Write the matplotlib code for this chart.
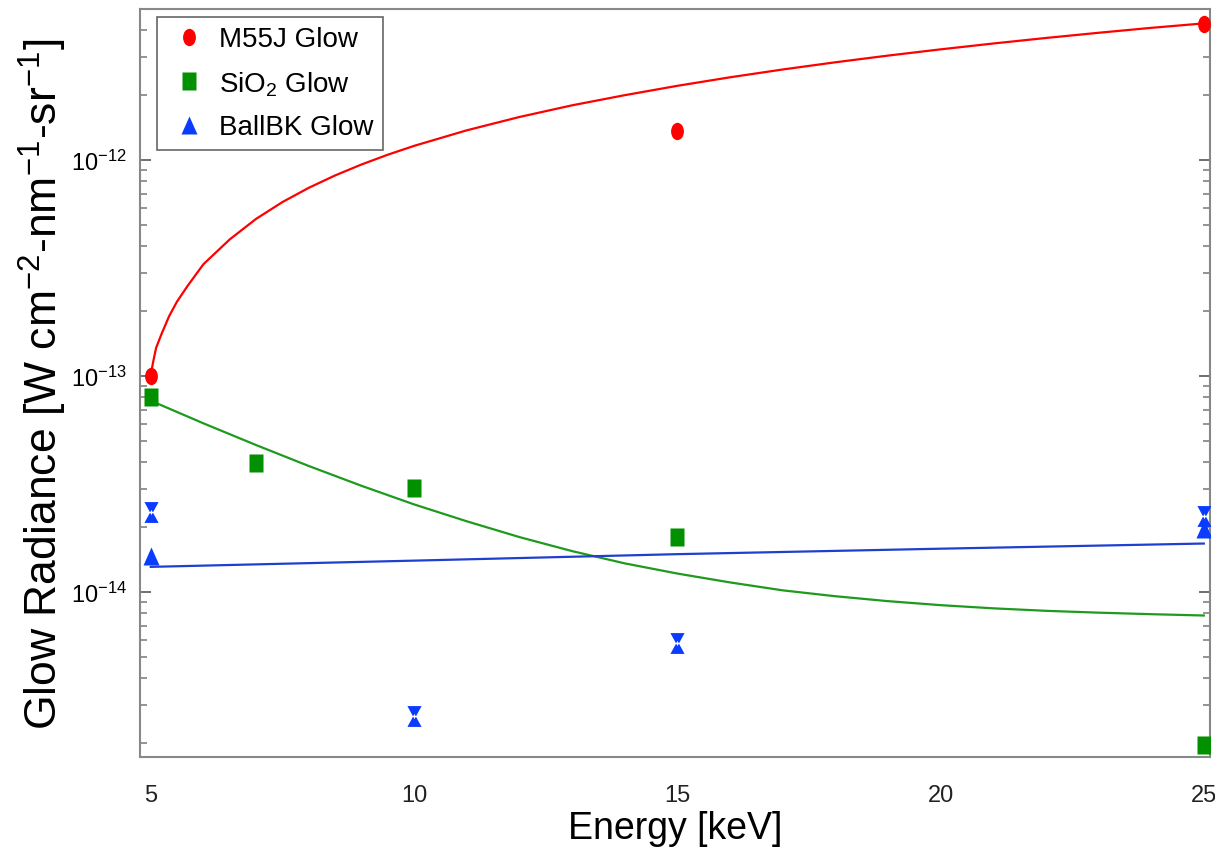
import matplotlib
matplotlib.use("Agg")
import matplotlib.pyplot as plt
from matplotlib.markers import MarkerStyle
from matplotlib.path import Path
from matplotlib.transforms import Affine2D
from matplotlib.ticker import NullFormatter

plt.rcParams['font.family'] = ['Liberation Sans', 'DejaVu Sans']
plt.rcParams['mathtext.fontset'] = 'custom'
plt.rcParams['mathtext.rm'] = 'Liberation Sans'
plt.rcParams['mathtext.it'] = 'Liberation Sans:italic'
plt.rcParams['mathtext.bf'] = 'Liberation Sans:bold'

# measured points
m55j_e = [5, 15, 25]
m55j_glow = [1.0e-13, 1.36e-12, 4.25e-12]

sio2_e = [5, 7, 10, 15, 25]
sio2_glow = [8.0e-14, 3.95e-14, 3.03e-14, 1.80e-14, 1.96e-15]

ballbk_e = [5, 25]
ballbk_glow = [1.47e-14, 1.96e-14]
ballbk_hg_e = [5, 10, 15, 25]
ballbk_hg_glow = [2.34e-14, 2.67e-15, 5.8e-15, 2.25e-14]

# fitted curves
m55j_fit_e = [5.0, 5.05, 5.1, 5.2, 5.35, 5.5, 5.7, 6.0, 6.5, 7.0, 7.5, 8.0, 8.5,
              9.0, 9.5, 10, 11, 12, 13, 14, 15, 16, 17, 18, 19, 20, 21, 22,
              23, 24, 25]
m55j_fit = [1.02e-13, 1.18e-13, 1.35e-13, 1.56e-13, 1.9e-13, 2.22e-13, 2.62e-13,
            3.3e-13, 4.3e-13, 5.35e-13, 6.4e-13, 7.45e-13, 8.5e-13, 9.55e-13,
            1.06e-12, 1.165e-12, 1.375e-12, 1.585e-12, 1.795e-12, 2.0e-12,
            2.21e-12, 2.42e-12, 2.63e-12, 2.84e-12, 3.05e-12, 3.26e-12,
            3.47e-12, 3.68e-12, 3.89e-12, 4.1e-12, 4.3e-12]

sio2_fit_e = [5, 6, 7, 8, 9, 10, 11, 12, 13, 14, 15, 16, 17, 18, 19, 20,
              21, 22, 23, 24, 25]
sio2_fit = [7.7e-14, 6.05e-14, 4.80e-14, 3.84e-14, 3.11e-14, 2.55e-14, 2.13e-14,
            1.80e-14, 1.55e-14, 1.36e-14, 1.22e-14, 1.11e-14, 1.02e-14, 9.58e-15,
            9.09e-15, 8.71e-15, 8.42e-15, 8.20e-15, 8.04e-15, 7.91e-15, 7.8e-15]

ballbk_fit_e = [5, 10, 15, 20, 25]
ballbk_fit = [1.31e-14, 1.40e-14, 1.50e-14, 1.59e-14, 1.68e-14]

y_major = [1e-14, 1e-13, 1e-12]
y_minor = [2e-15, 3e-15, 4e-15, 5e-15, 6e-15, 7e-15, 8e-15, 9e-15,
           2e-14, 3e-14, 4e-14, 5e-14, 6e-14, 7e-14, 8e-14, 9e-14,
           2e-13, 3e-13, 4e-13, 5e-13, 6e-13, 7e-13, 8e-13, 9e-13,
           2e-12, 3e-12, 4e-12]

red = '#ff0000'
green = '#009000'
blue = '#0a3cff'

squash = Affine2D().scale(0.74, 1.0)
dot = MarkerStyle('o', transform=squash)
box = MarkerStyle('s', transform=squash)
tri = MarkerStyle('^', transform=Affine2D().scale(0.87, 1.0))
hg_path = Path([(-0.68, 1), (0.68, 1), (0, -0.25), (-0.68, 1),
                (-0.68, -1), (0.68, -1), (0, 0.25), (-0.68, -1)],
               [Path.MOVETO, Path.LINETO, Path.LINETO, Path.CLOSEPOLY,
                Path.MOVETO, Path.LINETO, Path.LINETO, Path.CLOSEPOLY])

fig = plt.figure(figsize=(12.15, 8.53), dpi=100)
ax = fig.add_axes([0.115, 0.111, 0.881, 0.877])

ax.plot(m55j_fit_e, m55j_fit, color=red, lw=1.6, zorder=2)
ax.plot(sio2_fit_e, sio2_fit, color='#1e9a1e', lw=1.6, zorder=2)
ax.plot(ballbk_fit_e, ballbk_fit, color='#1f3fcf', lw=1.6, zorder=2)

ax.plot(m55j_e, m55j_glow, ls='none', marker=dot, ms=12.5, color=red,
        mec='none', label='M55J Glow', zorder=3)
ax.plot(sio2_e, sio2_glow, ls='none', marker=box, ms=13, color=green,
        mec='none', label='SiO$_2$ Glow', zorder=3)
ax.plot(ballbk_e, ballbk_glow, ls='none', marker=tri, ms=12.5, color=blue,
        mec='none', label='BallBK Glow', zorder=3)
ax.plot(ballbk_hg_e, ballbk_hg_glow, ls='none', marker=hg_path, ms=15, color=blue,
        mec='none', zorder=3)

ax.set_yscale('log')
ax.set_xlim(4.79, 25.12)
ax.set_ylim(1.72e-15, 5.0e-12)
ax.set_xticks([5, 10, 15, 20, 25])
ax.set_yticks(y_major)
ax.set_yticks(y_minor, minor=True)
ax.yaxis.set_minor_formatter(NullFormatter())

ax.tick_params(axis='x', length=0, labelsize=17, pad=19, colors='#222222')
ax.tick_params(axis='y', which='major', direction='in', length=8, width=1.2,
               left=True, right=True, labelsize=17, pad=9, color='#555555')
ax.tick_params(axis='y', which='minor', direction='in', length=5, width=1.1,
               left=True, right=True, color='#777777')
for s in ax.spines.values():
    s.set_color('#888888')
    s.set_linewidth(1.5)

ax.set_xlabel('Energy [keV]', fontsize=27)
ax.xaxis.set_label_coords(0.5, -0.071)
ax.set_ylabel('Glow Radiance [W cm$^{-2}$-nm$^{-1}$-sr$^{-1}$]', fontsize=32)
ax.yaxis.set_label_coords(-0.066, 0.5)

leg = ax.legend(loc='upper left', bbox_to_anchor=(0.016, 0.99), borderaxespad=0,
                fontsize=20, fancybox=False, edgecolor='#666666', framealpha=1,
                labelspacing=0.6, handletextpad=0.3, borderpad=0.35,
                handlelength=1.6)
leg.get_frame().set_linewidth(1.2)

fig.savefig('out.png', dpi=100)
